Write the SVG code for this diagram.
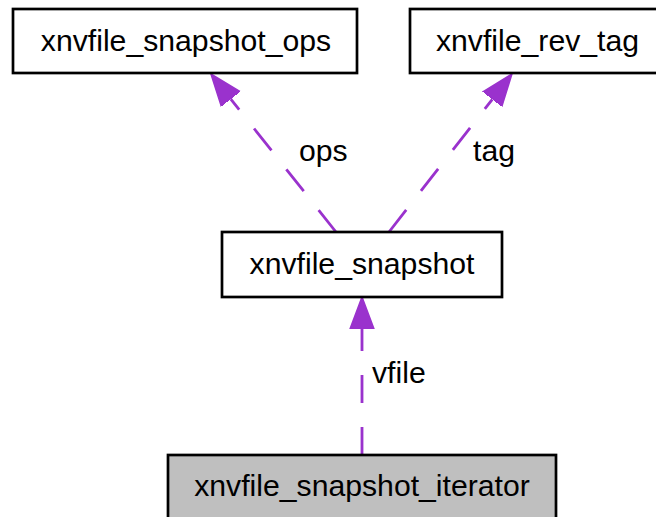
<svg xmlns="http://www.w3.org/2000/svg" width="656" height="517" viewBox="0 0 656 517">
<style>
.box{fill:#ffffff;stroke:#000000;stroke-width:2.7}
.cur{fill:#bfbfbf;stroke:#000000;stroke-width:2.7}
text{font-family:"Liberation Sans",Arial,sans-serif;font-size:30.2px;fill:#000000}
.lbl{text-anchor:middle}
.edge{stroke:#9a32cd;stroke-width:2.8;fill:none;stroke-dasharray:28,24}
</style>
<defs>
<marker id="ah" markerUnits="userSpaceOnUse" markerWidth="34" markerHeight="26" refX="0" refY="13" orient="auto" viewBox="0 0 34 26">
<path d="M0,1 L32,13 L0,25 z" fill="#9a32cd" stroke="#9a32cd" stroke-width="1.5"/>
</marker>
</defs>
<rect width="656" height="517" fill="#ffffff"/>
<g id="edges">
<line class="edge" x1="336" y1="232" x2="230.8" y2="99.1" marker-end="url(#ah)"/>
<text x="299" y="161">ops</text>
<line class="edge" x1="389" y1="232" x2="492.3" y2="99.3" marker-end="url(#ah)"/>
<text x="473" y="161">tag</text>
<line class="edge" x1="362" y1="455" x2="362" y2="329" marker-end="url(#ah)"/>
<text x="372" y="383">vfile</text>
</g>
<g id="node-ops">
<rect class="box" x="13" y="9" width="344" height="64"/>
<text class="lbl" x="186" y="51">xnvfile_snapshot_ops</text>
</g>
<g id="node-revtag">
<rect class="box" x="410" y="9" width="255" height="64"/>
<text class="lbl" x="537.5" y="51">xnvfile_rev_tag</text>
</g>
<g id="node-snapshot">
<rect class="box" x="222" y="232" width="280" height="65"/>
<text class="lbl" x="362" y="274">xnvfile_snapshot</text>
</g>
<g id="node-iterator">
<rect class="cur" x="168" y="455" width="388" height="70"/>
<text class="lbl" x="362" y="496">xnvfile_snapshot_iterator</text>
</g>
</svg>
